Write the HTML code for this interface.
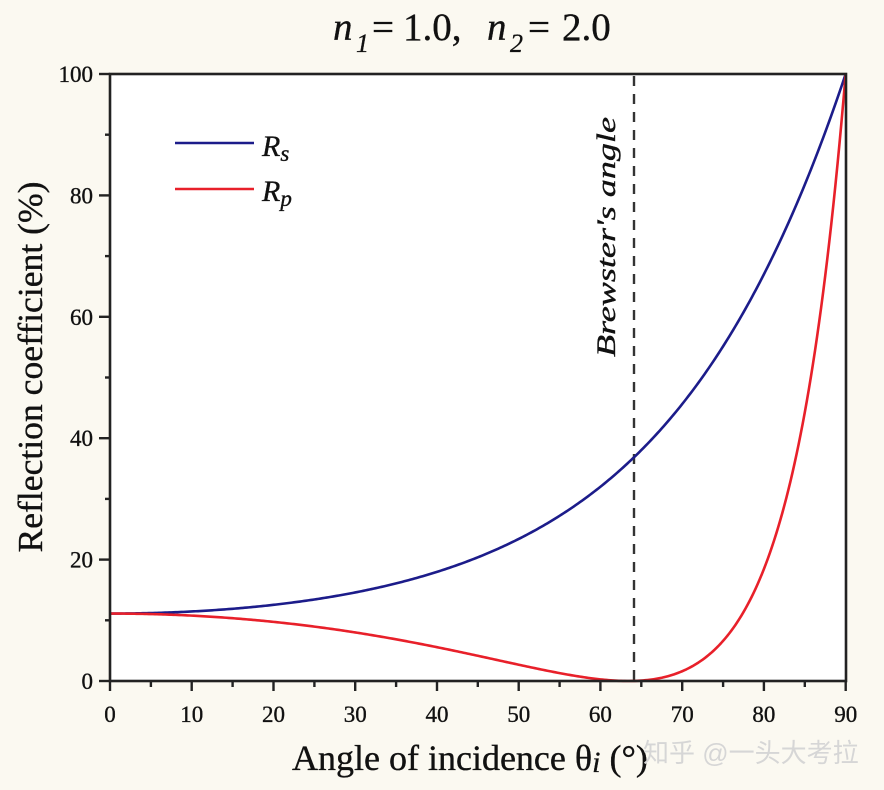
<!DOCTYPE html>
<html><head><meta charset="utf-8"><style>
html,body{margin:0;padding:0;background:#fbf9f1;}
svg{display:block;}
text{font-family:"Liberation Serif","Noto Serif CJK SC",serif;fill:#111;}
.bd{stroke:#111;stroke-width:0.35;}
</style></head><body>
<svg width="884" height="790" viewBox="0 0 884 790" xmlns="http://www.w3.org/2000/svg">
<rect x="0" y="0" width="884" height="790" fill="#fbf9f1"/>
<!-- title -->
<text y="40" font-size="39" class="bd">
<tspan x="333" font-style="italic">n</tspan><tspan x="356" y="52" font-size="26" font-style="italic">1</tspan><tspan x="372" y="40">=</tspan><tspan x="403" y="40">1.0,</tspan><tspan x="487" y="40" font-style="italic">n</tspan><tspan x="510" y="52" font-size="26" font-style="italic">2</tspan><tspan x="528" y="40">=</tspan><tspan x="562" y="40">2.0</tspan>
</text>
<!-- plot area -->
<rect x="110" y="74" width="736" height="607" fill="#ffffff"/>
<!-- dashed brewster -->
<line x1="634" y1="76" x2="634" y2="681" stroke="#333" stroke-width="2.4" stroke-dasharray="10,8"/>
<!-- Brewster label -->
<text transform="translate(615,357) rotate(-90)" font-size="26" font-style="italic" textLength="240" lengthAdjust="spacingAndGlyphs" class="bd">Brewster's angle</text>
<!-- curves -->
<polyline id="rs" fill="none" stroke="#1c1c8a" stroke-width="2.6" stroke-linejoin="round" points="110,613.6 150.9,613.0 191.7,611.5 232.6,608.8 273.5,604.8 314.4,599.5 355.2,592.4 396.1,583.4 437.0,571.9 477.8,557.3 518.7,539.0 559.6,515.8 600.4,486.7 641.3,450.1 682.2,404.1 702.6,376.9 723.1,346.4 743.5,312.3 763.9,274.3 780.3,240.7 796.6,204.1 813.0,164.3 829.3,121.0 837.5,98.0 845.7,74"/>
<polyline id="rp" fill="none" stroke="#e8202a" stroke-width="2.6" stroke-linejoin="round" points="110,613.6 150.9,614.1 191.7,615.6 232.6,618.2 273.5,621.9 314.4,626.6 355.2,632.4 396.1,639.3 437.0,647.2 477.8,655.8 518.7,664.7 559.6,673.1 600.4,679.4 616.8,680.7 628.5,681 641.3,680.6 661.7,677.7 682.2,671.2 702.6,659.7 723.1,640.9 743.5,612.1 763.9,569.0 780.3,520.2 796.6,453.9 813.0,364.0 829.3,241.6 837.5,164.4 845.7,74"/>
<!-- frame -->
<rect x="110" y="74" width="736" height="607" fill="none" stroke="#222" stroke-width="2.6"/>
<!-- ticks -->
<g stroke="#222" stroke-width="2.4">
<line x1="99" y1="681" x2="110" y2="681"/>
<line x1="99" y1="559.6" x2="110" y2="559.6"/>
<line x1="99" y1="438.2" x2="110" y2="438.2"/>
<line x1="99" y1="316.8" x2="110" y2="316.8"/>
<line x1="99" y1="195.4" x2="110" y2="195.4"/>
<line x1="99" y1="74" x2="110" y2="74"/>
<line x1="105" y1="620.3" x2="110" y2="620.3"/>
<line x1="105" y1="498.9" x2="110" y2="498.9"/>
<line x1="105" y1="377.5" x2="110" y2="377.5"/>
<line x1="105" y1="256.1" x2="110" y2="256.1"/>
<line x1="105" y1="134.7" x2="110" y2="134.7"/>
<line x1="110" y1="681" x2="110" y2="691"/>
<line x1="191.7" y1="681" x2="191.7" y2="691"/>
<line x1="273.5" y1="681" x2="273.5" y2="691"/>
<line x1="355.2" y1="681" x2="355.2" y2="691"/>
<line x1="437" y1="681" x2="437" y2="691"/>
<line x1="518.7" y1="681" x2="518.7" y2="691"/>
<line x1="600.4" y1="681" x2="600.4" y2="691"/>
<line x1="682.2" y1="681" x2="682.2" y2="691"/>
<line x1="763.9" y1="681" x2="763.9" y2="691"/>
<line x1="845.7" y1="681" x2="845.7" y2="691"/>
<line x1="150.9" y1="681" x2="150.9" y2="687"/>
<line x1="232.6" y1="681" x2="232.6" y2="687"/>
<line x1="314.4" y1="681" x2="314.4" y2="687"/>
<line x1="396.1" y1="681" x2="396.1" y2="687"/>
<line x1="477.8" y1="681" x2="477.8" y2="687"/>
<line x1="559.6" y1="681" x2="559.6" y2="687"/>
<line x1="641.3" y1="681" x2="641.3" y2="687"/>
<line x1="723.1" y1="681" x2="723.1" y2="687"/>
<line x1="804.8" y1="681" x2="804.8" y2="687"/>
</g>
<!-- y tick labels -->
<g font-size="23" text-anchor="end" class="bd">
<text x="93" y="689">0</text>
<text x="93" y="567.6">20</text>
<text x="93" y="446.2">40</text>
<text x="93" y="324.8">60</text>
<text x="93" y="203.4">80</text>
<text x="93" y="82">100</text>
</g>
<!-- x tick labels -->
<g font-size="23" text-anchor="middle" class="bd">
<text x="110" y="722">0</text>
<text x="191.7" y="722">10</text>
<text x="273.5" y="722">20</text>
<text x="355.2" y="722">30</text>
<text x="437" y="722">40</text>
<text x="518.7" y="722">50</text>
<text x="600.4" y="722">60</text>
<text x="682.2" y="722">70</text>
<text x="763.9" y="722">80</text>
<text x="845.7" y="722">90</text>
</g>
<!-- axis labels -->
<text x="292" y="770" font-size="36" class="bd">Angle of incidence θ<tspan font-style="italic" font-size="30" dy="2">i</tspan><tspan dy="-2"> (°)</tspan></text>
<text transform="translate(42,367) rotate(-90)" font-size="35" text-anchor="middle" textLength="371" lengthAdjust="spacingAndGlyphs" class="bd">Reflection coefficient (%)</text>
<!-- legend -->
<line x1="175" y1="143" x2="254" y2="143" stroke="#1c1c8a" stroke-width="2.6"/>
<line x1="175" y1="189" x2="254" y2="189" stroke="#e8202a" stroke-width="2.6"/>
<text x="262" y="156" font-size="30" font-style="italic" class="bd">R<tspan font-size="23" dy="5">s</tspan></text>
<text x="262" y="201" font-size="30" font-style="italic" class="bd">R<tspan font-size="23" dy="5">p</tspan></text>
<!-- watermark -->
<text x="643" y="762" font-size="26" style="font-family:'Liberation Sans','Noto Sans CJK SC',sans-serif;fill:#d6d6d6;">知乎 @一头大考拉</text>
</svg>
<script>
(function(){
  var rs=[],rp=[];
  for(var t=0;t<=90.0001;t+=0.25){
    var a=t*Math.PI/180,c=Math.cos(a),s=Math.sin(a);
    var ct=Math.sqrt(1-s*s/4);
    var Rs=Math.pow((c-2*ct)/(c+2*ct),2);
    var Rp=Math.pow((ct-2*c)/(ct+2*c),2);
    var x=(110+t*8.174).toFixed(2);
    rs.push(x+','+(681-Rs*607).toFixed(2));
    rp.push(x+','+(681-Rp*607).toFixed(2));
  }
  document.getElementById('rs').setAttribute('points',rs.join(' '));
  document.getElementById('rp').setAttribute('points',rp.join(' '));
})();
</script>
</body></html>
